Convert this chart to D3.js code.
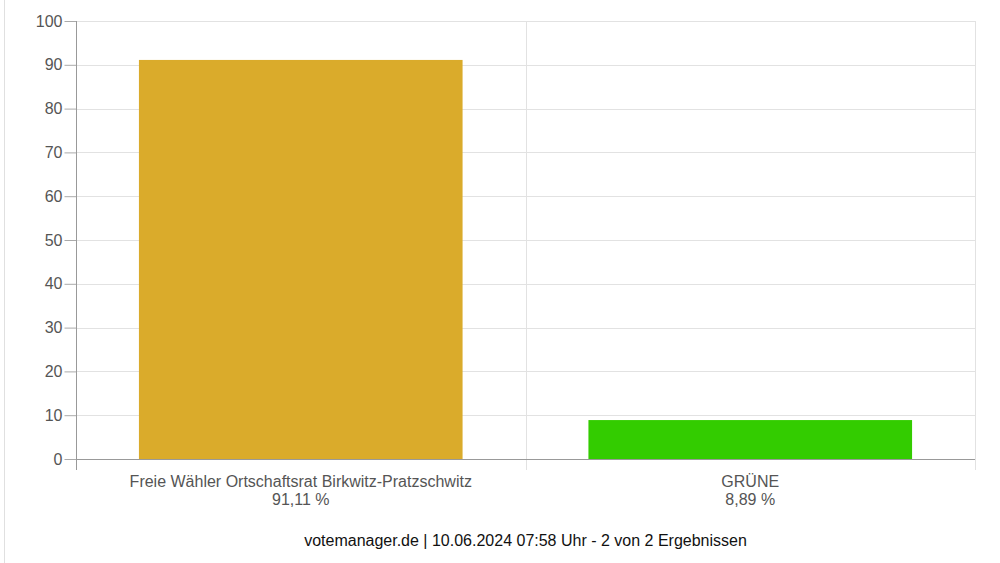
<!DOCTYPE html>
<html><head><meta charset="utf-8">
<script src="https://cdn.jsdelivr.net/npm/d3@7"></script>
<style>body{margin:0;background:#fff;font-family:Arial,"Liberation Sans",sans-serif;}</style>
</head><body>
<svg id="c" width="1000" height="563"></svg>
<script>
const categories = ["Freie Wähler Ortschaftsrat Birkwitz-Pratzschwitz", "GRÜNE"];
const values = [91.11, 8.89];
const valueLabels = ["91,11 %", "8,89 %"];
const colors = ["#DAAB2B", "#33CC00"];
const yTicks = [0,10,20,30,40,50,60,70,80,90,100];
const footer = "votemanager.de | 10.06.2024 07:58 Uhr - 2 von 2 Ergebnissen";

const svg = d3.select("#c");
const L = 76, R = 975, T = 21, B = 459;
const x = d3.scaleBand().domain(categories).range([L, R]).paddingInner(0).paddingOuter(0);
const y = d3.scaleLinear().domain([0, 100]).range([B, T]);

// left border
svg.append("line").attr("x1",4.5).attr("x2",4.5).attr("y1",0).attr("y2",563).attr("stroke","#e0e0e0");

// horizontal grid
svg.append("g").selectAll("line").data(yTicks).join("line")
  .attr("x1", L).attr("x2", R).attr("y1", d=>Math.round(y(d))+0.5).attr("y2", d=>Math.round(y(d))+0.5)
  .attr("stroke", "#e2e2e2");
// vertical grid at band boundaries
const bounds = categories.map(c=>x(c)).concat([R]);
svg.append("g").selectAll("line").data(bounds.slice(1)).join("line")
  .attr("x1", d=>Math.round(d)+0.5).attr("x2", d=>Math.round(d)+0.5).attr("y1", T).attr("y2", 470)
  .attr("stroke", "#e2e2e2");

// bars
const bw = x.bandwidth()*0.72;
svg.append("g").selectAll("rect").data(values).join("rect")
  .attr("x", (d,i)=>x(categories[i]) + (x.bandwidth()-bw)/2)
  .attr("width", bw)
  .attr("y", d=>y(d)).attr("height", d=>B - y(d))
  .attr("fill", (d,i)=>colors[i]);

// y axis
const ya = svg.append("g").attr("transform", `translate(${L+0.5},0)`)
  .call(d3.axisLeft(y).tickValues(yTicks).tickSize(12).tickPadding(2));
ya.select(".domain").remove();
ya.selectAll(".tick line").attr("stroke", "#aaa");
ya.selectAll(".tick text").attr("fill", "#555").style("font-size","16px").style("font-family","Arial,'Liberation Sans',sans-serif");
svg.append("line").attr("x1",L+0.5).attr("x2",L+0.5).attr("y1",T).attr("y2",470).attr("stroke","#999");

// x axis
svg.append("line").attr("x1",L).attr("x2",R).attr("y1",B+0.5).attr("y2",B+0.5).attr("stroke","#999");

// category labels
const lab = svg.append("g").selectAll("text").data(categories).join("text")
  .attr("x", d=>x(d)+x.bandwidth()/2).attr("text-anchor","middle")
  .attr("fill","#555").style("font-size","16px");
lab.append("tspan").attr("x", d=>x(d)+x.bandwidth()/2).attr("y",487).text(d=>d);
lab.append("tspan").attr("x", d=>x(d)+x.bandwidth()/2).attr("y",505).text((d,i)=>valueLabels[i]);

// footer
svg.append("text").attr("x",(L+R)/2).attr("y",546).attr("text-anchor","middle")
  .attr("fill","#111").style("font-size","16px").text(footer);
</script>
</body></html>
